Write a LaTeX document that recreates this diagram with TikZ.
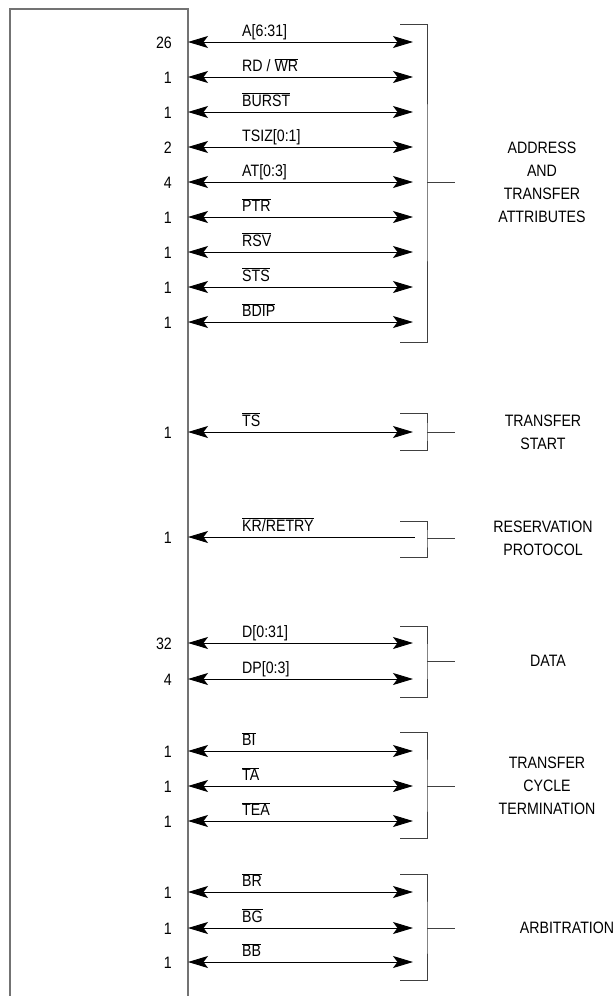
\documentclass[tikz,border=0pt]{standalone}
\usepackage{fontspec}
\setmainfont{Liberation Sans}[FakeStretch=0.86]
\usetikzlibrary{arrows.meta}
\newcommand\ovl[1]{\ensuremath{\overline{\mbox{#1}}}}
\tikzset{
  sig/.style={draw=black, line width=0.9pt,
    {Stealth[length=20pt,width=12pt,inset=4.5pt]}-{Stealth[length=20pt,width=12pt,inset=4.5pt]}},
  sigin/.style={draw=black, line width=0.9pt,
    {Stealth[length=20pt,width=12pt,inset=4.5pt]}-},
  num/.style={anchor=base east, inner sep=0pt, font=\fontsize{16.5}{19}\selectfont},
  lbl/.style={anchor=base west, inner sep=0pt, font=\fontsize{16.5}{19}\selectfont},
  grp/.style={align=center, inner sep=0pt, font=\fontsize{16.5}{23}\selectfont},
  brk/.style={draw=black!75, line width=1pt},
  chip/.style={draw=black!55, line width=1.4pt}
}
\begin{document}
\begin{tikzpicture}[x=1pt,y=-1pt]
\useasboundingbox (0,0) rectangle (615,996);
% chip outline
\coordinate (cbl) at (10,996);
\coordinate (ctl) at (10,9);
\coordinate (ctr) at (188,9);
\coordinate (cbr) at (188,996);
\draw[chip] (cbl) -- (ctl) -- (ctr) -- (cbr);
% bidirectional signals
\foreach \i/\y/\n/\l in {
  1/42/26/{A[6:31]},
  2/77/1/{RD / \ovl{WR}},
  3/112/1/{\ovl{BURST}},
  4/147/2/{TSIZ[0:1]},
  5/182/4/{AT[0:3]},
  6/217/1/{\ovl{PTR}},
  7/252/1/{\ovl{RSV}},
  8/287/1/{\ovl{STS}},
  9/322/1/{\ovl{BDIP}},
  10/432/1/{\ovl{TS}},
  12/643/32/{D[0:31]},
  13/679/4/{DP[0:3]},
  14/751/1/{\ovl{BI}},
  15/786/1/{\ovl{TA}},
  16/821/1/{\ovl{TEA}},
  17/892/1/{\ovl{BR}},
  18/928/1/{\ovl{BG}},
  19/962/1/{\ovl{BB}}}{
  \coordinate (sl\i) at (188,\y);
  \coordinate (sr\i) at (413,\y);
  \draw[sig] (sl\i) -- (sr\i);
  \node[num] (n\i) at (172,\y+6) {\n};
  \node[lbl] (t\i) at (242,\y-5.5) {\l};
}
% input-only signal
\coordinate (sl11) at (188,537);
\coordinate (sr11) at (415,537);
\draw[sigin] (sl11) -- (sr11);
\node[num] (n11) at (172,537+6) {1};
\node[lbl] (t11) at (242,537-5.5) {\ovl{KR/RETRY}};
% brackets and group labels
\foreach \g/\top/\bot/\mid/\gx/\txt in {
  a/24/342/182/542/{ADDRESS\\AND\\TRANSFER\\ATTRIBUTES},
  b/413/450/432/543/{TRANSFER\\START},
  c/521/557/538/543/{RESERVATION\\PROTOCOL},
  d/626/697/661/548/{DATA},
  e/732/838/786/547/{TRANSFER\\CYCLE\\TERMINATION},
  f/874/980/928/567/{ARBITRATION}}{
  \coordinate (bt\g) at (400,\top);
  \coordinate (bb\g) at (400,\bot);
  \coordinate (bm\g) at (427,\mid);
  \coordinate (bs\g) at (455,\mid);
  \draw[brk] (bt\g) -| (bm\g) |- (bb\g);
  \draw[brk] (bm\g) -- (bs\g);
  \node[grp] (g\g) at (\gx,\mid) {\txt};
}
\end{tikzpicture}
\end{document}
